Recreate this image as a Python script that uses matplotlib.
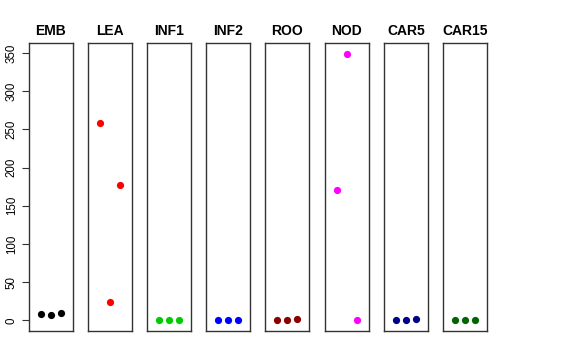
import matplotlib
matplotlib.use("Agg")
import matplotlib.pyplot as plt

plt.rcParams["font.family"] = ["Liberation Sans", "DejaVu Sans"]

categories = ["EMB", "LEA", "INF1", "INF2", "ROO", "NOD", "CAR5", "CAR15"]
values = {
    "EMB": [8.5, 7.0, 9.5],
    "LEA": [258, 24, 177],
    "INF1": [0.2, 0.2, 0.2],
    "INF2": [0.3, 0.3, 0.3],
    "ROO": [1.0, 0.8, 1.2],
    "NOD": [171, 348, 0.8],
    "CAR5": [0.5, 0.8, 1.2],
    "CAR15": [0.2, 0.2, 0.3],
}
colors = ["#000000", "#FF0000", "#00CD00", "#0000FF", "#8B0000", "#FF00FF", "#00008B", "#006400"]
yticks = [0, 50, 100, 150, 200, 250, 300, 350]

W, H = 576, 360
fig = plt.figure(figsize=(W / 100, H / 100), dpi=100)
lefts = [29, 88, 147, 206, 265, 325, 384, 443]
pw = 44
top, bottom = 43, 331
ymax = 349
for i, (cat, col) in enumerate(zip(categories, colors)):
    ax = fig.add_axes([lefts[i] / W, 1 - bottom / H, pw / W, (bottom - top) / H])
    ax.plot([1, 2, 3], values[cat], "o", color=col, markersize=5.2, markeredgewidth=0)
    ax.set_xlim(-0.16, 4.16)
    ax.set_ylim(-0.04 * ymax, ymax * 1.04)
    ax.set_xticks([])
    ax.set_title(cat, fontsize=10, fontweight="bold", pad=6)
    for s in ax.spines.values():
        s.set_linewidth(1.0)
        s.set_color("#333333")
    if i == 0:
        ax.set_yticks(yticks)
        ax.set_yticklabels([str(t) for t in yticks], rotation=90, va="center", fontsize=8.3)
        ax.tick_params(axis="y", length=5, width=0.8, pad=3, colors="#333333", labelcolor="black")
    else:
        ax.set_yticks([])
fig.savefig("out.png", dpi=100)
